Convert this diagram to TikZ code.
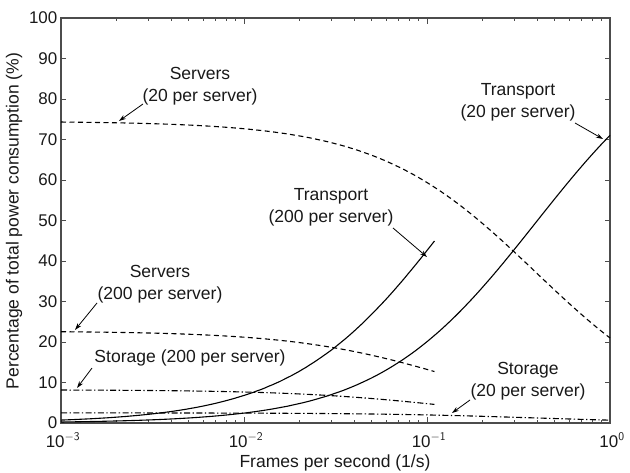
\documentclass[tikz,border=0pt]{standalone}
\usepackage{fontspec}
\setmainfont{Liberation Sans}
\usetikzlibrary{arrows.meta}
\begin{document}
\begin{tikzpicture}[x=1bp,y=-1bp,
  lbl/.style={font=\fontsize{17.6}{22}\selectfont, align=center, inner sep=0pt, text=black!90},
  ticklbl/.style={font=\fontsize{17}{20}\selectfont, inner sep=0pt, text=black!90},
  axisbox/.style={draw=black!70, line width=1.2bp},
  tickln/.style={draw=black!70, line width=0.9bp},
  curve/.style={line width=1.1bp, black},
  srvline/.style={curve, dash pattern=on 5bp off 3.5bp},
  stoline/.style={curve, dash pattern=on 6bp off 2.5bp on 1.3bp off 2.5bp},
  arr/.style={line width=0.8bp, black, -{Stealth[length=7bp,width=4.5bp]}}]
\useasboundingbox (0,0) rectangle (630,473);
% axes box
\coordinate (bl) at (61,423);
\coordinate (tr) at (610,18);
\draw[axisbox] (bl) rectangle (tr);
% y ticks
\foreach \k in {0,...,10}{
  \pgfmathsetmacro{\yy}{423-40.5*\k}
  \draw[tickln] (61,\yy) -- (66,\yy);
  \draw[tickln] (610,\yy) -- (605,\yy);
  \pgfmathtruncatemacro{\lab}{10*\k}
  \node[ticklbl, anchor=east] (yl\k) at (57.5,\yy) {\lab};
}
% x ticks
\foreach \d in {0,1,2,3}{
  \pgfmathsetmacro{\xx}{61+183*\d}
  \draw[tickln] (\xx,423) -- (\xx,417);
  \draw[tickln] (\xx,18) -- (\xx,24);
}
\foreach \d in {0,1,2}{
  \foreach \m in {2,...,9}{
    \pgfmathsetmacro{\xx}{61+183*(\d+log10(\m))}
    \draw[tickln] (\xx,423) -- (\xx,419.5);
    \draw[tickln] (\xx,18) -- (\xx,21.5);
  }
}
\node[ticklbl] (xl0) at (63,440) {10$^{\mathsf{-3}}$};
\node[ticklbl] (xl1) at (246,440) {10$^{\mathsf{-2}}$};
\node[ticklbl] (xl2) at (429,440) {10$^{\mathsf{-1}}$};
\node[ticklbl] (xl3) at (612,440) {10$^{\mathsf{0}}$};
% axis titles
\node[lbl] (xtitle) at (335,463) {Frames per second (1/s)};
\node[lbl, rotate=90] (ytitle) at (14,221) {Percentage of total power consumption (\%)};
% curves, 20 per server
\draw[srvline] plot[domain=-3:0, samples=120, smooth]
  ({61+183*(\x+3)}, {423-4.05*74.5/(1+2.548*exp(2.302585*\x))});
\draw[curve] plot[domain=-3:0, samples=120, smooth]
  ({61+183*(\x+3)}, {423-4.05*252*exp(2.302585*\x)/(1+2.548*exp(2.302585*\x))});
\draw[stoline] plot[domain=-3:0, samples=120, smooth]
  ({61+183*(\x+3)}, {423-4.05*2.5/(1+2.548*exp(2.302585*\x))});
% curves, 200 per server
\draw[srvline] plot[domain=-3:-0.9586, samples=100, smooth]
  ({61+183*(\x+3)}, {423-4.05*22.7/(1+7.16*exp(2.302585*\x))});
\draw[curve] plot[domain=-3:-0.9586, samples=100, smooth]
  ({61+183*(\x+3)}, {423-4.05*731*exp(2.302585*\x)/(1+7.16*exp(2.302585*\x))});
\draw[stoline] plot[domain=-3:-0.9586, samples=100, smooth]
  ({61+183*(\x+3)}, {423-4.05*8.2/(1+7.16*exp(2.302585*\x))});
% labels
\node[lbl] (srv20) at (200,86) {Servers\\(20 per server)};
\node[lbl] (tr20) at (518,102.5) {Transport\\(20 per server)};
\node[lbl] (tr200) at (331,207.5) {Transport\\(200 per server)};
\node[lbl] (srv200) at (160,284) {Servers\\(200 per server)};
\node[lbl] (sto200) at (190,358) {Storage (200 per server)};
\node[lbl] (sto20) at (528,381.5) {Storage\\(20 per server)};
% arrows
\coordinate (a1s) at (143,104); \coordinate (a1e) at (119,121);
\coordinate (a2s) at (575,123); \coordinate (a2e) at (603,139);
\coordinate (a3s) at (393,228); \coordinate (a3e) at (427,257);
\coordinate (a4s) at (97,303);  \coordinate (a4e) at (75,330);
\coordinate (a5s) at (92,368);  \coordinate (a5e) at (77,388);
\coordinate (a6s) at (470,400); \coordinate (a6e) at (452,413);
\draw[arr] (a1s) -- (a1e);
\draw[arr] (a2s) -- (a2e);
\draw[arr] (a3s) -- (a3e);
\draw[arr] (a4s) -- (a4e);
\draw[arr] (a5s) -- (a5e);
\draw[arr] (a6s) -- (a6e);
\end{tikzpicture}
\end{document}
